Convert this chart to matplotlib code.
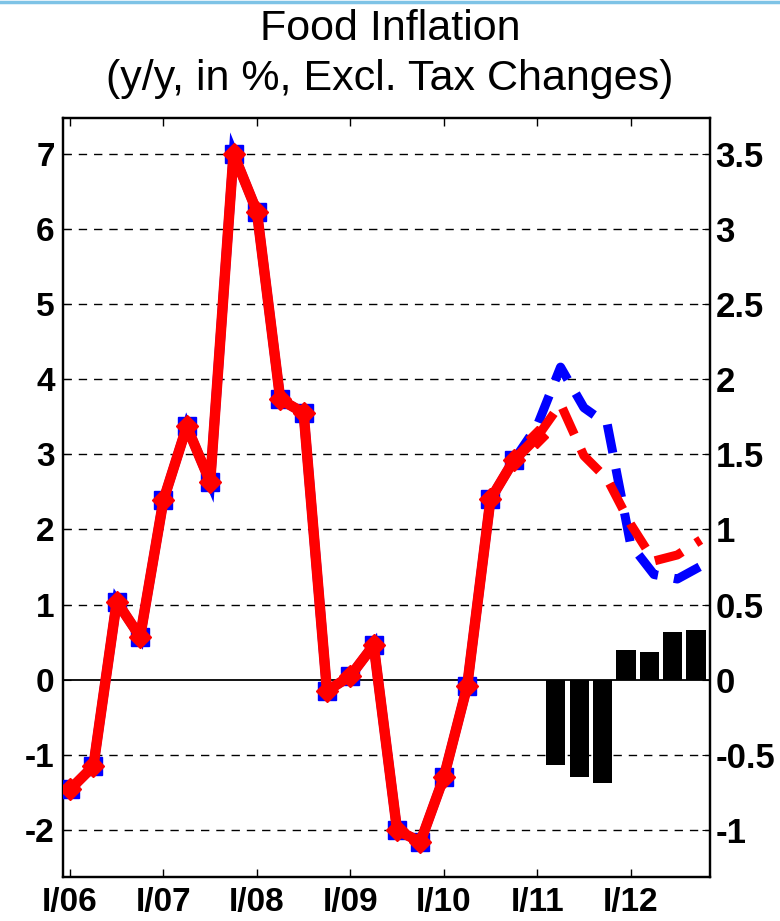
import matplotlib
matplotlib.use('Agg')
import matplotlib.pyplot as plt
from matplotlib.lines import Line2D

plt.rcParams['font.family'] = ['Liberation Sans', 'DejaVu Sans']

# quarters I/06 .. IV/12 -> index 0..27
tick_pos = [0, 4, 8, 12, 16, 20, 24]
tick_labels = ['I/06', 'I/07', 'I/08', 'I/09', 'I/10', 'I/11', 'I/12']

# actual data (same in both series), I/06 .. I/11
hist_x = list(range(0, 21))
hist_y = [-1.46, -1.15, 1.04, 0.57, 2.39, 3.37, 2.63, 7.0, 6.23, 3.73,
          3.55, -0.15, 0.05, 0.46, -2.0, -2.16, -1.3, -0.09, 2.4, 2.92, 3.23]

# blue forecast (IV/10 .. IV/12)
blue_x = list(range(19, 28))
blue_y = [2.92, 3.38, 4.16, 3.62, 3.40, 1.80, 1.40, 1.34, 1.51]

# red forecast (I/11 .. IV/12)
red_x = list(range(20, 28))
red_y = [3.23, 3.67, 2.98, 2.67, 2.07, 1.58, 1.66, 1.86]

# bars, right axis (II/11 .. IV/12)
bar_x = list(range(21, 28))
bar_y = [-0.57, -0.645, -0.685, 0.2, 0.185, 0.32, 0.333]

fig = plt.figure(figsize=(7.8, 9.21), dpi=100)
ax = fig.add_axes([0.0808, 0.0478, 0.8295, 0.8241])
ax2 = ax.twinx()

ylo, yhi = -2.625, 7.475
ax.set_ylim(ylo, yhi)
ax2.set_ylim(ylo / 2, yhi / 2)
ax.set_xlim(-0.3, 27.4)

# grid + zero line
for v in range(-2, 8):
    if v == 0:
        ax.axhline(0, color='black', lw=1.3, zorder=1)
    else:
        ax.axhline(v, color='black', lw=1.0, dashes=(6, 5), zorder=1)

# bars on the right axis
ax2.bar([x - 0.2 for x in bar_x], bar_y, width=0.82, color='black', zorder=2)

ax.set_zorder(ax2.get_zorder() + 1)
ax.patch.set_visible(False)

# blue series
ax.plot(hist_x[:20], hist_y[:20], color='blue', lw=7, marker='s', ms=13,
        solid_joinstyle='miter', zorder=3)
ax.plot(blue_x, blue_y, color='blue', lw=6.5, dashes=(3.2, 1.8), zorder=3)

# red series
ax.plot(hist_x, hist_y, color='red', lw=7.5, marker='D', ms=11, zorder=4)
ax.plot(red_x, red_y, color='red', lw=6.5, dashes=(3.2, 1.8), zorder=4)

ax.set_xticks(tick_pos)
ax.set_xticklabels(tick_labels, fontsize=24, fontweight='bold')
ax.set_yticks(range(-2, 8))
ax.set_yticklabels([str(v) for v in range(-2, 8)], fontsize=24, fontweight='bold')
ax.tick_params(axis='x', direction='in', length=6, top=True, pad=7, width=1)
ax.tick_params(axis='y', direction='in', length=6, pad=6)
ax2.set_yticks([-1, -0.5, 0, 0.5, 1, 1.5, 2, 2.5, 3, 3.5])
ax2.set_yticklabels(['-1', '-0.5', '0', '0.5', '1', '1.5', '2', '2.5', '3', '3.5'],
                    fontsize=25, fontweight='bold')
ax2.tick_params(axis='y', direction='in', length=6, pad=4)

for a in (ax, ax2):
    for s in a.spines.values():
        s.set_linewidth(1.6)

fig.suptitle('Food Inflation\n(y/y, in %, Excl. Tax Changes)', fontsize=31,
             y=0.99, va='top', linespacing=1.3)

# thin light-blue line at the top border
fig.add_artist(Line2D([0, 1], [0.998, 0.998], color='#7ec3e6', lw=2.5,
                      transform=fig.transFigure))

fig.savefig('out.png', dpi=100)
